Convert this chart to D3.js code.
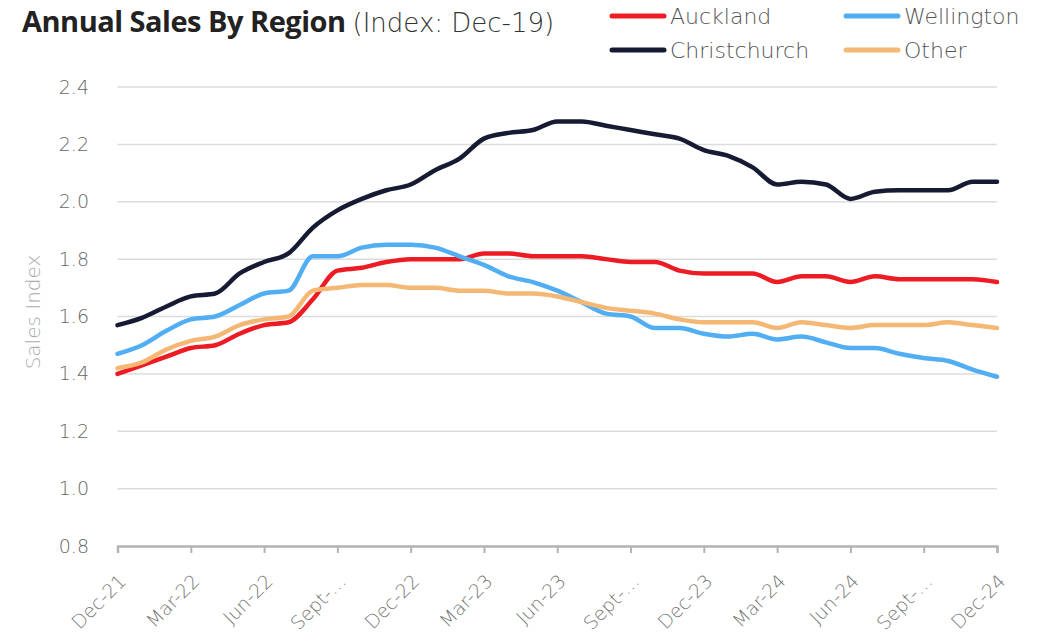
<!DOCTYPE html>
<html>
<head>
<meta charset="utf-8">
<script src="https://cdn.jsdelivr.net/npm/d3@7"></script>
<style>
  body { margin: 0; background: #fff; }
  text { font-family: "DejaVu Sans", sans-serif; }
</style>
</head>
<body>
<script>
// months Dec-21 .. Dec-24
const months = ["Dec-21","Jan-22","Feb-22","Mar-22","Apr-22","May-22","Jun-22","Jul-22","Aug-22","Sep-22","Oct-22","Nov-22",
  "Dec-22","Jan-23","Feb-23","Mar-23","Apr-23","May-23","Jun-23","Jul-23","Aug-23","Sep-23","Oct-23","Nov-23",
  "Dec-23","Jan-24","Feb-24","Mar-24","Apr-24","May-24","Jun-24","Jul-24","Aug-24","Sep-24","Oct-24","Nov-24","Dec-24"];

const tickLabels = ["Dec-21","Mar-22","Jun-22","Sept-…","Dec-22","Mar-23","Jun-23","Sept-…","Dec-23","Mar-24","Jun-24","Sept-…","Dec-24"];
const yTicks = [0.8, 1.0, 1.2, 1.4, 1.6, 1.8, 2.0, 2.2, 2.4];

const auckland = [1.40,1.43,1.46,1.49,1.50,1.54,1.57,1.58,1.66,1.76,1.77,1.79,
  1.80,1.80,1.80,1.82,1.82,1.81,1.81,1.81,1.80,1.79,1.79,1.76,
  1.75,1.75,1.75,1.72,1.74,1.74,1.72,1.74,1.73,1.73,1.73,1.73,1.72];
const wellington = [1.47,1.50,1.55,1.59,1.60,1.64,1.68,1.69,1.81,1.81,1.84,1.85,
  1.85,1.84,1.81,1.78,1.74,1.72,1.69,1.65,1.61,1.60,1.56,1.56,
  1.54,1.53,1.54,1.52,1.53,1.51,1.49,1.49,1.47,1.455,1.445,1.415,1.39];
const christchurch = [1.57,1.595,1.635,1.67,1.68,1.75,1.79,1.82,1.91,1.97,2.01,2.04,
  2.06,2.11,2.15,2.22,2.24,2.25,2.28,2.28,2.265,2.25,2.235,2.22,
  2.18,2.16,2.12,2.06,2.07,2.06,2.01,2.035,2.04,2.04,2.04,2.07,2.07];
const other = [1.42,1.44,1.485,1.515,1.53,1.57,1.59,1.60,1.69,1.70,1.71,1.71,
  1.70,1.70,1.69,1.69,1.68,1.68,1.67,1.65,1.63,1.62,1.61,1.59,
  1.58,1.58,1.58,1.56,1.58,1.57,1.56,1.57,1.57,1.57,1.58,1.57,1.56];

const series = [
  { name: "Auckland", values: auckland, color: "#ED1C24" },
  { name: "Wellington", values: wellington, color: "#52AEF2" },
  { name: "Christchurch", values: christchurch, color: "#161B33" },
  { name: "Other", values: other, color: "#F5B874" }
];

const svg = d3.select("body").append("svg")
  .attr("width", 1051)
  .attr("height", 635);

const x = d3.scalePoint().domain(months).range([117.5, 997]);
const y = d3.scaleLinear().domain([0.8, 2.4]).range([546, 87]);

// title
const title = svg.append("text")
  .attr("x", 22)
  .attr("y", 32)
  .attr("fill", "#222");
title.append("tspan")
  .style("font-family", "'Open Sans', sans-serif")
  .style("font-size", "29px")
  .attr("font-weight", "bold")
  .attr("letter-spacing", "-0.5")
  .text("Annual Sales By Region");
title.append("tspan")
  .style("font-size", "26px")
  .attr("font-weight", "200")
  .attr("fill", "#333")
  .attr("dx", 7)
  .text("(Index: Dec-19)");

// gridlines
svg.append("g")
  .selectAll("line")
  .data(yTicks.slice(1))
  .enter()
  .append("line")
  .attr("x1", x.range()[0])
  .attr("x2", x.range()[1])
  .attr("y1", d => y(d))
  .attr("y2", d => y(d))
  .attr("stroke", "#dcdcdc")
  .attr("stroke-width", 1.5);

// y axis labels
const yAxis = d3.axisLeft(y).tickValues(yTicks).tickFormat(d3.format(".1f")).tickSize(0).tickPadding(0);
const yg = svg.append("g")
  .attr("transform", "translate(89,0)")
  .call(yAxis);
yg.select(".domain").remove();
yg.selectAll("text")
  .style("font-size", "19px")
  .style("font-family", "'DejaVu Sans', sans-serif")
  .attr("font-weight", "200")
  .attr("fill", "#666");

svg.append("text")
  .attr("transform", "translate(40, 312)rotate(-90)")
  .attr("text-anchor", "middle")
  .style("font-size", "20px")
  .attr("font-weight", "200")
  .attr("fill", "#aaa")
  .text("Sales Index");

// x axis
const tickMonths = months.filter((m, i) => i % 3 === 0);
const xAxis = d3.axisBottom(x)
  .tickValues(tickMonths)
  .tickFormat((d, i) => tickLabels[i])
  .tickSizeOuter(0)
  .tickSize(7);
const xg = svg.append("g")
  .attr("transform", "translate(0,546)")
  .call(xAxis);
xg.select(".domain").attr("stroke", "#b3b3b3").attr("stroke-width", 2.5);
xg.selectAll(".tick line").attr("stroke", "#b3b3b3").attr("stroke-width", 2);
xg.selectAll("text")
  .style("font-size", "19px")
  .style("font-family", "'DejaVu Sans', sans-serif")
  .attr("font-weight", "200")
  .attr("fill", "#777")
  .style("text-anchor", "end")
  .attr("x", 0)
  .attr("y", 0)
  .attr("dy", "0.7em")
  .attr("transform", "translate(0, 27)rotate(-45)");

// lines
const line = d3.line()
  .x((d, i) => x(months[i]))
  .y(d => y(d))
  .curve(d3.curveMonotoneX);

svg.append("g")
  .selectAll("path")
  .data(series)
  .enter()
  .append("path")
  .attr("d", d => line(d.values))
  .attr("fill", "none")
  .attr("stroke", d => d.color)
  .attr("stroke-width", 4.5)
  .attr("stroke-linecap", "round")
  .attr("stroke-linejoin", "round");

// legend
const legendPos = [
  { x: 612, y: 16 },
  { x: 846, y: 16 },
  { x: 612, y: 50 },
  { x: 846, y: 50 }
];
const legend = svg.append("g")
  .selectAll("g")
  .data(series)
  .enter()
  .append("g")
  .attr("transform", (d, i) => "translate(" + legendPos[i].x + "," + legendPos[i].y + ")");

legend.append("line")
  .attr("x1", 0)
  .attr("x2", 52)
  .attr("y1", 0)
  .attr("y2", 0)
  .attr("stroke", d => d.color)
  .attr("stroke-width", 5)
  .attr("stroke-linecap", "round");

legend.append("text")
  .attr("x", 58)
  .attr("y", 8)
  .style("font-size", "22px")
  .attr("font-weight", "200")
  .attr("fill", "#555")
  .text(d => d.name);
</script>
</body>
</html>
